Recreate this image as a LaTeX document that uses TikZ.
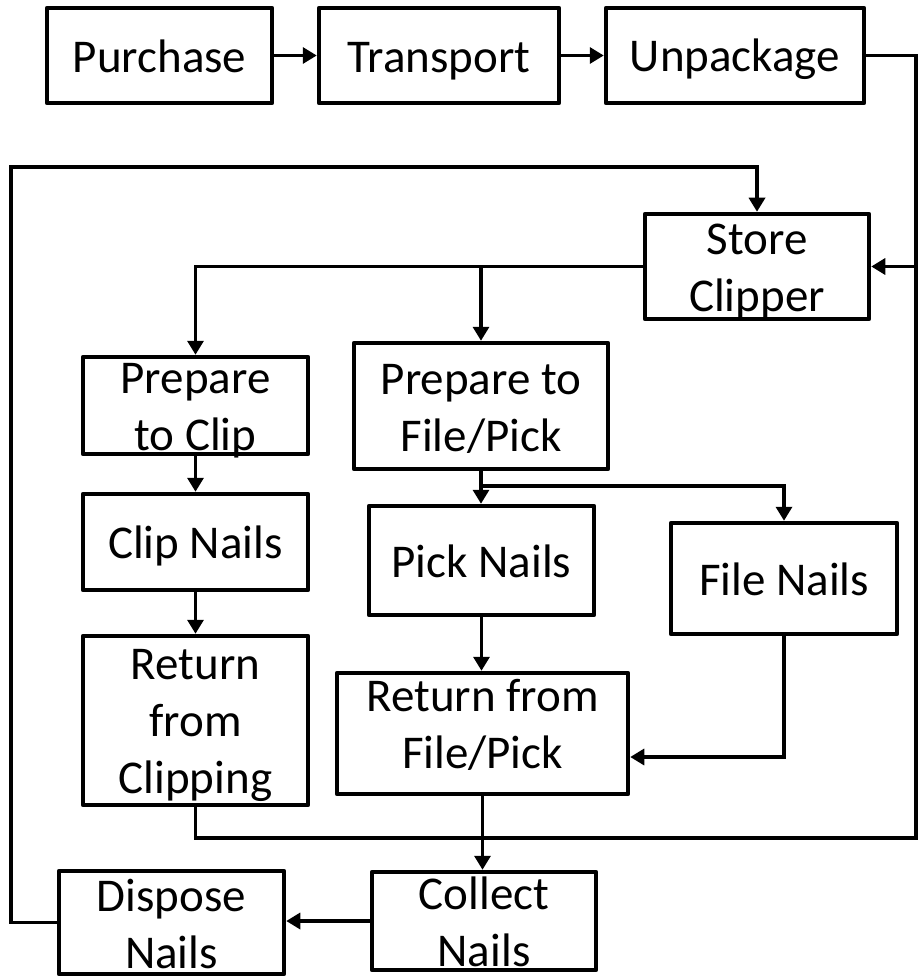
\documentclass[tikz,border=0pt]{standalone}
\usepackage{fontspec}
\setmainfont{Carlito}
\usetikzlibrary{arrows.meta}
\newcommand{\stt}{\rule[-7pt]{0pt}{43pt}}
\begin{document}
\begin{tikzpicture}[x=1pt,y=-1pt,
  box/.style={draw=black,line width=4.5pt,line join=round,fill=white,inner sep=0pt,
    minimum width=#1},
  txt/.style={align=center,inner sep=0pt,font=\fontsize{47}{57}\selectfont,yshift=-2.5pt},
  conn/.style={draw=black,line width=3.3pt},
  arr/.style={conn,-{Triangle[length=14pt,width=16pt]}}]
\useasboundingbox (0,0) rectangle (918,976);

% boxes
\node[box=225pt,minimum height=95pt]  (purchase)  at (159.5,55.5) {};
\node[box=240pt,minimum height=95pt]  (transport) at (439,55.5) {};
\node[box=258pt,minimum height=95pt]  (unpack)    at (735,55.5) {};
\node[box=224pt,minimum height=105pt] (store)     at (757,266.5) {};
\node[box=225pt,minimum height=97pt]  (prepclip)  at (195.5,405.5) {};
\node[box=254pt,minimum height=126pt] (prepfile)  at (481,406) {};
\node[box=225pt,minimum height=96pt]  (clip)      at (195.5,542) {};
\node[box=225pt,minimum height=109pt] (pick)      at (481.5,560.5) {};
\node[box=226pt,minimum height=111pt] (file)      at (784,578.5) {};
\node[box=225pt,minimum height=169pt] (retclip)   at (195.5,720.5) {};
\node[box=291pt,minimum height=121pt] (retfp)     at (482.5,733.5) {};
\node[box=224pt,minimum height=98pt]  (collect)   at (484,921) {};
\node[box=225pt,minimum height=103pt] (dispose)   at (171.5,922.5) {};

% helper coordinates
\coordinate (R2) at (916,838);
\coordinate (L1) at (11,922.5);
\coordinate (L2) at (11,167);
\coordinate (B)  at (481,486);
\coordinate (F)  at (784,757);

% connectors
\draw[arr] (purchase.east) -- (transport.west);
\draw[arr] (transport.east) -- (unpack.west);
\draw[arr] (unpack.east) -| (R2 |- store.east) -- (store.east);
\draw[conn] (retclip.south) |- (R2) -- (R2 |- store.east);
\draw[arr] (dispose.west) -- (L1) -- (L2) -| (store.north);
\draw[arr] (store.west) -| (prepclip.north);
\draw[arr] (prepfile.north |- store.west) -- (prepfile.north);
\draw[arr] (prepclip.south) -- (clip.north);
\draw[arr] (clip.south) -- (retclip.north);
\draw[arr] (prepfile.south) -- (prepfile.south |- pick.north);
\draw[arr] (B) -| (file.north);
\draw[arr] (pick.south) -- (pick.south |- retfp.north);
\draw[arr] (file.south) -- (F) -- (F -| retfp.east);
\draw[arr] (retfp.south) -- (retfp.south |- collect.north);
\draw[arr] (collect.west) -- (collect.west -| dispose.east);

% texts
\node[txt] (purchaseT)  at (purchase)  {\stt Purchase};
\node[txt] (transportT) at (transport) {\stt Transport};
\node[txt] (unpackT)    at (unpack)    {\stt Unpackage};
\node[txt] (storeT)     at (store)     {\stt Store\\\stt Clipper};
\node[txt] (prepclipT)  at (prepclip)  {\stt Prepare\\\stt to Clip};
\node[txt] (prepfileT)  at (prepfile)  {\stt Prepare to\\\stt File/Pick};
\node[txt] (clipT)      at (clip)      {\stt Clip Nails};
\node[txt] (pickT)      at (pick)      {\stt Pick Nails};
\node[txt] (fileT)      at (file)      {\stt File Nails};
\node[txt] (retclipT)   at (retclip)   {\stt Return\\\stt from\\\stt Clipping};
\node[txt,yshift=11pt] (retfpT) at (retfp) {\stt Return from\\\stt File/Pick};
\node[txt] (collectT)   at (collect)   {\stt Collect\\\stt Nails};
\node[txt] (disposeT)   at (dispose)   {\stt Dispose\\\stt Nails};
\end{tikzpicture}
\end{document}
